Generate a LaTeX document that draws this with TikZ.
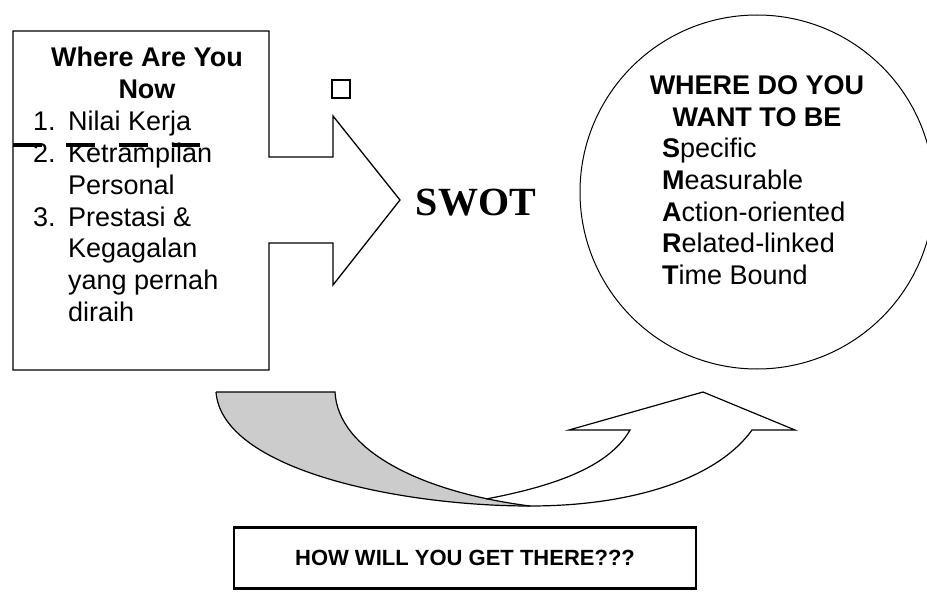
\documentclass[tikz,border=0pt]{standalone}
\usepackage{fontspec}
\setmainfont{Liberation Sans}
\newfontfamily\swotfont{Liberation Serif}
\usetikzlibrary{positioning}
\definecolor{shadegrey}{gray}{0.8}
\tikzset{
  boxline/.style={line width=1.3pt,line join=miter},
  txt/.style={inner sep=0pt,font=\fontsize{27}{32}\selectfont},
  ttl/.style={txt,font=\fontsize{27}{32}\selectfont\bfseries,anchor=base},
  itm/.style={txt,anchor=base west},
  howbox/.style={draw,line width=2.6pt,minimum width=462pt,minimum height=61pt,
    inner sep=0pt,font=\fontsize{22}{26}\selectfont\bfseries}
}
\begin{document}
\begin{tikzpicture}[x=1pt,y=-1pt]
\clip (0,0) rectangle (927,596);
% left box and the big arrow
\draw[boxline] (13,31) -- (269,31) -- (269,157) -- (333,157) -- (333,116) -- (400,200)
  -- (333,285) -- (333,243) -- (269,243) -- (269,370) -- (13,370) -- cycle;
\draw[line width=1.2pt] (332,80) rectangle (350,98);
\node[ttl] (where) at (147,67) {Where Are You};
\node[ttl] (now) at (147,99) {Now};
\node[itm] (n1) at (33,131) {1.};
\node[itm] (nilai) at (68,131) {Nilai Kerja};
\node[itm] (n2) at (33,163) {2.};
\node[itm] (ketr) at (68,163) {Ketrampilan};
\node[itm] (pers) at (68,195) {Personal};
\node[itm] (n3) at (33,227) {3.};
\node[itm] (prest) at (68,227) {Prestasi \&};
\node[itm] (kega) at (68,258) {Kegagalan};
\node[itm] (yang) at (68,290) {yang pernah};
\node[itm] (dira) at (68,322) {diraih};
\draw[line width=4pt,dash pattern=on 29pt off 24pt] (13,145) -- (200,145);
\node[inner sep=0pt,font=\swotfont\fontsize{40}{44}\selectfont\bfseries] (swot) at (476,203) {SWOT};
% circle
\draw[line width=1pt] (757,192) circle[radius=177pt];
\node[ttl] (wdy) at (757,95) {WHERE DO YOU};
\node[ttl] (wtb) at (757,127) {WANT TO BE};
\node[itm] (s) at (662,158) {\textbf{S}pecific};
\node[itm] (m) at (662,190) {\textbf{M}easurable};
\node[itm] (a) at (662,222) {\textbf{A}ction-oriented};
\node[itm] (r) at (662,253) {\textbf{R}elated-linked};
\node[itm] (t) at (662,285) {\textbf{T}ime Bound};
% curved arrow
\fill[white] (486,499) .. controls (560,485) and (610,465) .. (630,430) -- (569,430) -- (703,392)
  -- (795,430) -- (752,430) .. controls (720,475) and (640,506) .. (530,506) -- cycle;
\fill[shadegrey] (216,392) -- (335,392) .. controls (338,450) and (420,492) .. (530,506)
  .. controls (400,506) and (222,470) .. (216,392) -- cycle;
\draw[line width=1.2pt] (216,392) -- (335,392) .. controls (338,450) and (420,492) .. (530,506);
\draw[line width=1.2pt,line join=miter] (216,392) .. controls (222,470) and (400,506) .. (530,506)
  .. controls (640,506) and (720,475) .. (752,430) -- (795,430) -- (703,392) -- (569,430)
  -- (630,430) .. controls (610,465) and (560,485) .. (486,499);
% bottom box
\node[howbox] (how) at (465,558) {HOW WILL YOU GET THERE???};
\end{tikzpicture}
\end{document}
